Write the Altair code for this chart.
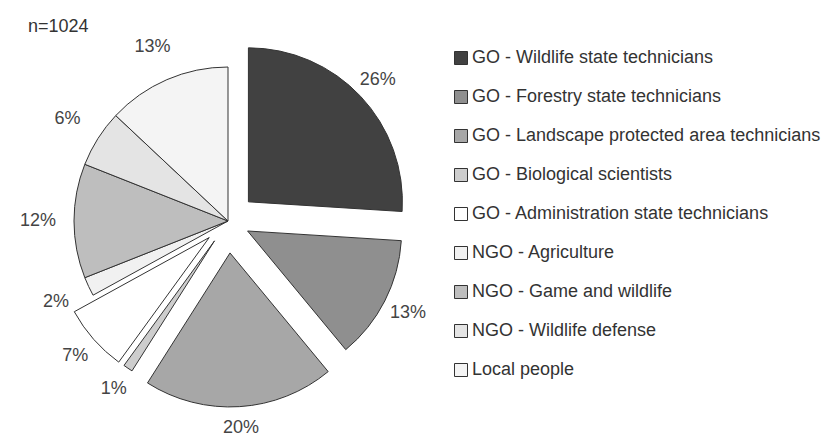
import altair as alt
import pandas as pd

# ---- data ----
categories = [
    "GO - Wildlife state technicians",
    "GO - Forestry state technicians",
    "GO - Landscape protected area technicians",
    "GO - Biological scientists",
    "GO - Administration state technicians",
    "NGO - Agriculture",
    "NGO - Game and wildlife",
    "NGO - Wildlife defense",
    "Local people",
]
values = [26, 13, 20, 1, 7, 2, 12, 6, 13]
sample_note = "n=1024"

# ---- style ----
fills = ["#414141", "#8f8f8f", "#a7a7a7", "#cdcdcd", "#ffffff",
         "#f1f1f1", "#bebebe", "#e4e4e4", "#f4f4f4"]
explode = [28, 22, 32, 24, 25, 0, 0, 0, 0]
CX, CY, R = 228, 221, 154
FONT = "Liberation Sans"

df = pd.DataFrame({
    "category": categories,
    "value": values,
    "order": list(range(len(categories))),
    "explode": explode,
})

base = alt.Chart(df).transform_window(
    cum="sum(value)", sort=[alt.SortField("order")], frame=[None, 0]
).transform_joinaggregate(
    total="sum(value)"
).transform_calculate(
    t0="(datum.cum - datum.value) / datum.total * 2 * PI",
    t1="datum.cum / datum.total * 2 * PI",
).transform_calculate(
    mid="(datum.t0 + datum.t1) / 2",
).transform_calculate(
    px=f"{CX} + datum.explode * sin(datum.mid)",
    py=f"{CY} - datum.explode * cos(datum.mid)",
    lx=f"{CX} + (190 + 0.55 * datum.explode) * sin(datum.mid)",
    ly=f"{CY} - (190 + 0.55 * datum.explode) * cos(datum.mid)",
    label="datum.value + '%'",
)

arcs = base.mark_arc(outerRadius=R, stroke="#333333", strokeWidth=1).encode(
    x=alt.X("px:Q", scale=None),
    y=alt.Y("py:Q", scale=None),
    theta=alt.Theta("t0:Q", scale=None, stack=None),
    theta2="t1:Q",
    fill=alt.Fill(
        "category:N",
        scale=alt.Scale(domain=categories, range=fills),
        legend=alt.Legend(
            title=None,
            orient="none",
            legendX=452,
            legendY=49,
            symbolType="square",
            symbolSize=169,
            symbolStrokeColor="#333333",
            symbolStrokeWidth=1,
            symbolOpacity=1,
            labelFont=FONT,
            labelFontSize=18,
            labelColor="#333333",
            labelOffset=2,
            rowPadding=21,
            padding=0,
            labelLimit=400,
        ),
    ),
)

labels = base.mark_text(font=FONT, fontSize=18, color="#444444",
                        align="center", baseline="middle").encode(
    x=alt.X("lx:Q", scale=None),
    y=alt.Y("ly:Q", scale=None),
    text="label:N",
)

note = alt.Chart(pd.DataFrame({"t": [sample_note]})).mark_text(
    font=FONT, fontSize=18, color="#333333", align="left", baseline="middle"
).encode(x=alt.value(28), y=alt.value(27), text="t:N")

chart = alt.layer(arcs, labels, note).properties(
    width=831, height=437, padding=0,
    autosize=alt.AutoSizeParams(type="none"),
).configure_view(stroke=None)

chart.save("out.html", embed_options={"renderer": "svg", "actions": False})
